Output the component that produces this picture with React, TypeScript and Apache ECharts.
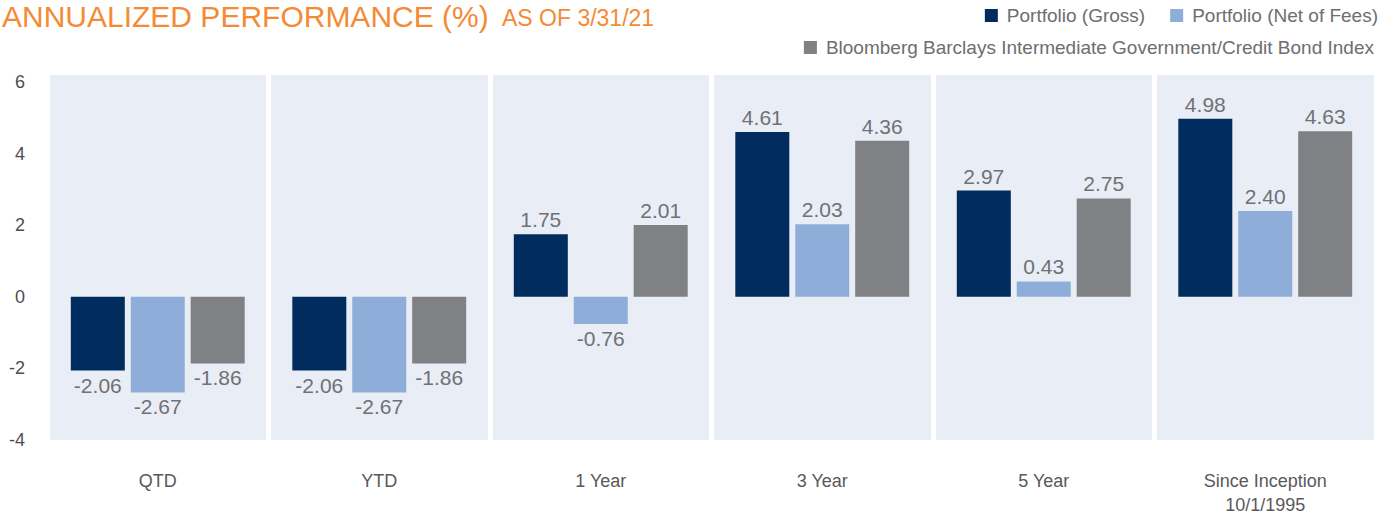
import React, { useEffect, useRef } from "react";
import * as echarts from "echarts";

const categories = ["QTD", "YTD", "1 Year", "3 Year", "5 Year", "Since Inception\n10/1/1995"];
const seriesNames = [
  "Portfolio (Gross)",
  "Portfolio (Net of Fees)",
  "Bloomberg Barclays Intermediate Government/Credit Bond Index",
];
const grossValues = [-2.06, -2.06, 1.75, 4.61, 2.97, 4.98];
const netValues = [-2.67, -2.67, -0.76, 2.03, 0.43, 2.4];
const indexValues = [-1.86, -1.86, 2.01, 4.36, 2.75, 4.63];
const seriesColors = ["#012C5E", "#8FADD9", "#808184"];
const yTicks = [-4, -2, 0, 2, 4, 6];

const FONT = "'Liberation Sans', Arial, Helvetica, sans-serif";

export default function App() {
  const ref = useRef<HTMLDivElement>(null);
  useEffect(() => {
    if (!ref.current) return;
    const chart = echarts.init(ref.current, null, { renderer: "svg" });
    const allValues = [grossValues, netValues, indexValues];
    const series = allValues.map((vals, i) => ({
      name: seriesNames[i],
      type: "bar",
      barWidth: 54,
      barGap: "11%",
      itemStyle: { color: seriesColors[i] },
      data: vals.map((v) => ({
        value: v,
        label: {
          show: true,
          position: v < 0 ? "bottom" : "top",
          distance: 4,
          formatter: () => v.toFixed(2),
          fontSize: 21,
          color: "#707174",
          fontFamily: FONT,
        },
      })),
    }));
    chart.setOption({
      animation: false,
      textStyle: { fontFamily: FONT },
      title: [
        {
          text: "ANNUALIZED PERFORMANCE (%)",
          left: 2,
          top: 1,
          padding: 0,
          textStyle: { fontSize: 30, fontWeight: "normal", color: "#F58A35", fontFamily: FONT },
        },
        {
          text: "AS OF 3/31/21",
          left: 502,
          top: 6,
          padding: 0,
          textStyle: { fontSize: 23, fontWeight: "normal", color: "#F58A35", fontFamily: FONT },
        },
      ],
      legend: [
        {
          data: [seriesNames[0], seriesNames[1]],
          right: 16,
          top: 6,
          padding: 0,
          icon: "rect",
          itemWidth: 13,
          itemHeight: 13,
          itemGap: 25,
          textStyle: { fontSize: 19, color: "#6D6E71", padding: [0, 0, 0, 4], fontFamily: FONT },
        },
        {
          data: [seriesNames[2]],
          right: 20,
          top: 38,
          padding: 0,
          icon: "rect",
          itemWidth: 13,
          itemHeight: 13,
          textStyle: { fontSize: 19, color: "#6D6E71", padding: [0, 0, 0, 4], fontFamily: FONT },
        },
      ],
      grid: { left: 47, right: 18, top: 75, bottom: 74, containLabel: false },
      xAxis: {
        type: "category",
        data: categories,
        axisLine: { show: false },
        axisTick: { show: false },
        axisLabel: { fontSize: 18, color: "#58595B", margin: 29, lineHeight: 24, fontFamily: FONT },
        splitArea: { show: true, areaStyle: { color: ["#E9EDF6"] } },
        splitLine: { show: true, lineStyle: { color: "#FFFFFF", width: 5 } },
      },
      yAxis: {
        type: "value",
        min: yTicks[0],
        max: 6.2,
        interval: 2,
        axisLine: { show: false },
        axisTick: { show: false },
        splitLine: { show: false },
        axisLabel: {
          showMaxLabel: false,
          fontSize: 18,
          color: "#4D4D4F",
          margin: 22,
          fontFamily: FONT,
        },
      },
      series,
    });
    return () => chart.dispose();
  }, []);
  return <div ref={ref} style={{ width: 1394, height: 517, position: "absolute", left: 0, top: 0 }} />;
}
